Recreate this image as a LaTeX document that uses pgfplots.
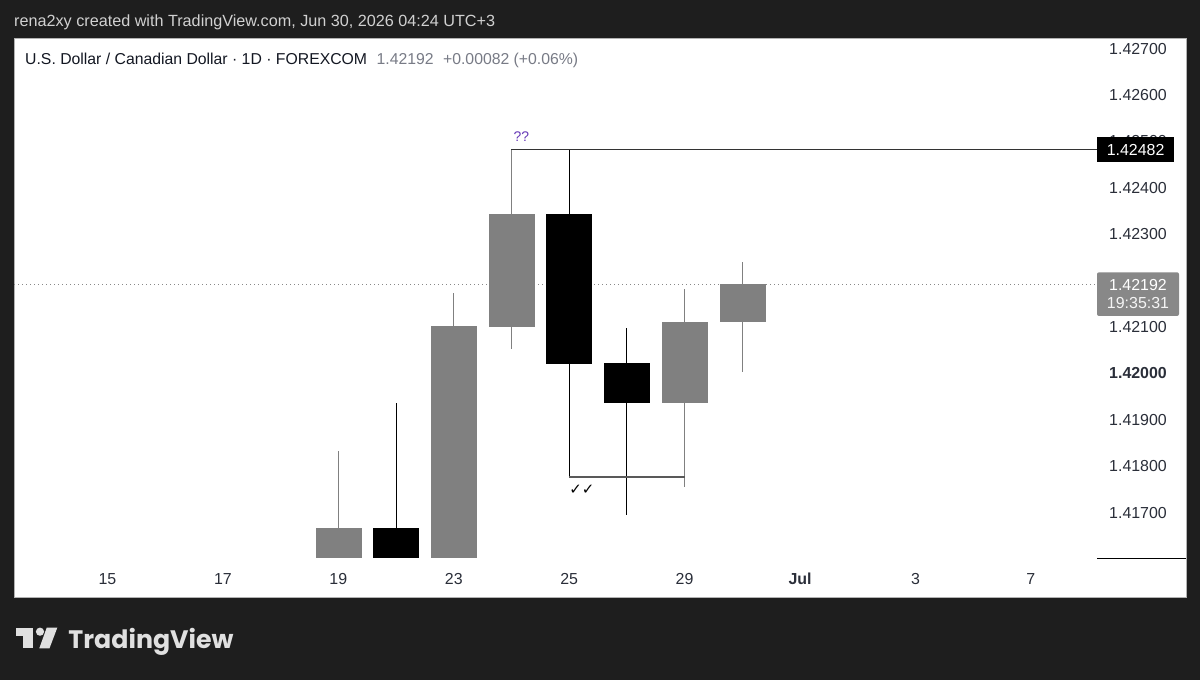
\documentclass[border=0pt]{standalone}
\usepackage{fontspec}
\setmainfont{Liberation Sans}
\newfontfamily\dejavu{DejaVu Sans}
\newfontfamily\poppins{Poppins}
\usepackage{graphicx}
\usepackage{pgfplots}
\pgfplotsset{compat=1.18}
\definecolor{bgdark}{HTML}{1E1E1E}
\definecolor{hdr}{HTML}{D1D1D1}
\definecolor{titlec}{HTML}{131722}
\definecolor{valc}{HTML}{787B86}
\definecolor{candg}{HTML}{808080}
\definecolor{labc}{HTML}{2A2E39}
\definecolor{qq}{HTML}{673AB7}
\definecolor{lastc}{HTML}{888888}
\definecolor{linec}{HTML}{333333}
\definecolor{logoc}{HTML}{E0E0E0}
% candle: #1 pos, #2 left, #3 right, #4 open, #5 close, #6 low, #7 high, #8 colour
\newcommand\candle[8]{%
  \addplot[#8, line width=1bp] coordinates {(#1,#6) (#1,#7)};
  \addplot[draw=#8, fill=#8, line width=0.6bp] coordinates {(#2,#4) (#3,#4) (#3,#5) (#2,#5)} -- cycle;
}
\begin{document}
\begin{tikzpicture}[x=1bp,y=1bp]
\fill[bgdark] (0,0) rectangle (1200,680);
\fill[white] (14,83) rectangle (1186,642);
\draw[gray!60, line width=0.8bp] (14,83) rectangle (1186,642);
% header
\node[anchor=base west, inner sep=0pt, text=hdr] at (14,653.3)
  {\resizebox{481bp}{!}{\fontsize{16}{16}\selectfont rena2xy created with TradingView.com, Jun 30, 2026 04:24 UTC+3}};
% title
\node[anchor=base west, inner sep=0pt] at (25,615)
  {\resizebox{553bp}{!}{\fontsize{16}{16}\selectfont\color{titlec}U.S. Dollar / Canadian Dollar · 1D · FOREXCOM\hspace{0.6em}\color{valc}1.42192\hspace{0.6em}+0.00082 (+0.06\%)}};
\begin{axis}[
  at={(14bp,122bp)}, anchor=south west,
  width=1083bp, height=520bp, scale only axis,
  xmin=-1.620, xmax=17.146, ymin=1.416022, ymax=1.427228,
  axis line style={draw=none}, tick style={draw=none},
  scaled y ticks=false, scaled x ticks=false,
  xtick={0,2,4,6,8,10,12,14,16},
  xticklabels={15,17,19,23,25,29,\textbf{Jul},3,7},
  xticklabel style={anchor=base, inner sep=0pt, yshift=-27bp, text=labc, font=\fontsize{16}{16}\selectfont},
  ytick={1.417,1.418,1.419,1.420,1.421,1.422,1.423,1.424,1.425,1.426,1.427},
  yticklabels={1.41700,1.41800,1.41900,\textbf{1.42000},1.42100,1.42200,1.42300,1.42400,1.42500,1.42600,1.42700},
  yticklabel pos=right,
  yticklabel style={anchor=west, inner sep=0pt, xshift=12bp, text=labc, font=\fontsize{16}{16}\selectfont},
  clip=true,
]
% last price dotted line
\addplot[lastc, line width=0.9bp, dash pattern=on 1bp off 3bp] coordinates {(-1.62,1.42192) (17.146,1.42192)};
% candles (up = gray, down = black)
\candle{4}{3.61}{4.39}{1.41550}{1.41667}{1.41500}{1.41833}{candg}
\candle{5}{4.61}{5.39}{1.41667}{1.41570}{1.41500}{1.41936}{black}
\candle{6}{5.61}{6.39}{1.41570}{1.42101}{1.41520}{1.42173}{candg}
\candle{7}{6.61}{7.39}{1.42101}{1.42343}{1.42053}{1.42482}{candg}
\candle{8}{7.61}{8.39}{1.42343}{1.42022}{1.41777}{1.42482}{black}
\candle{9}{8.61}{9.39}{1.42022}{1.41937}{1.41695}{1.42097}{black}
\candle{10}{9.61}{10.39}{1.41937}{1.42110}{1.41756}{1.42181}{candg}
\candle{11}{10.61}{11.39}{1.42113}{1.42192}{1.42004}{1.42240}{candg}
% drawings
\addplot[linec, line width=1.3bp] coordinates {(7,1.42482) (17.146,1.42482)};
\addplot[gray!70!black, line width=1.3bp] coordinates {(8,1.41777) (10,1.41777)};
\node[text=qq, font=\fontsize{14}{14}\selectfont] at (axis cs:7.17,1.42511) {??};
\node[text=black, font=\dejavu\fontsize{15}{15}\selectfont] at (axis cs:8.22,1.41749) {✓✓};
\end{axis}
% price scale labels
\fill[black] (1097,517.7) rectangle (1174.3,542.7);
\node[text=white, font=\fontsize{16}{16}\selectfont, inner sep=0pt] at (1135.6,530.2) {1.42482};
\fill[lastc, rounded corners=2bp] (1097,364) rectangle (1179,407.7);
\node[text=white, font=\fontsize{16}{16}\selectfont, inner sep=0pt] at (1138,394.5) {1.42192};
\node[text=white!92!gray, font=\fontsize{16}{16}\selectfont, inner sep=0pt] at (1138,377) {19:35:31};
\draw[black, line width=1bp] (1097,121.7) -- (1186,121.7);
% logo
\fill[logoc] (16,44) rectangle (33.3,52.3);
\fill[logoc] (23.3,31.7) rectangle (33.3,44);
\fill[logoc] (40,48.3) circle (4.1);
\fill[logoc] (46.7,52.3) -- (57.3,52.3) -- (49.5,31.7) -- (39.3,31.7) -- cycle;
\node[anchor=base west, inner sep=0pt, text=logoc] at (68.3,31.7)
  {\resizebox{165bp}{!}{\poppins\bfseries TradingView}};
\end{tikzpicture}
\end{document}
